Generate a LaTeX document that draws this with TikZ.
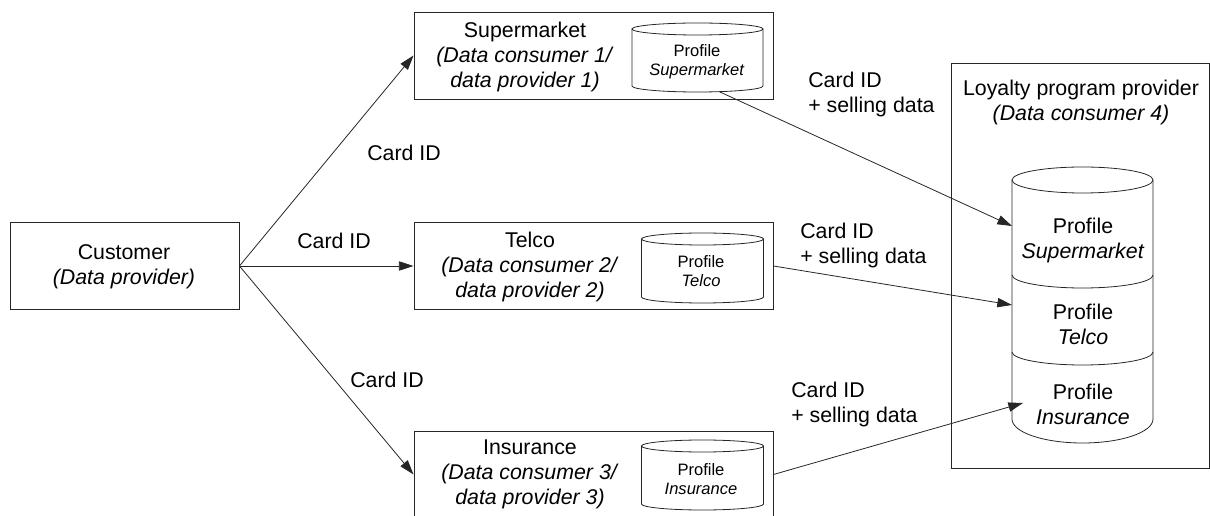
\documentclass[tikz,border=0pt]{standalone}
\usepackage{fontspec}
\setmainfont{Liberation Sans}
\usetikzlibrary{arrows.meta}

% database cylinder: centre x, top-ellipse y, bottom-arc y, x radius, y radius
\newcommand{\dbcyl}[5]{%
  \draw[db] (#1-#4,#2) -- (#1-#4,#3)
    arc[start angle=180,end angle=360,x radius=#4*0.75pt,y radius=#5*0.75pt]
    -- (#1+#4,#2);
  \draw[db] (#1,#2) ellipse[x radius=#4*0.75pt,y radius=#5*0.75pt];}

\begin{document}
\begin{tikzpicture}[x=0.75pt,y=-0.75pt,
  box/.style={draw=black!85, line width=0.7pt, rectangle, inner sep=0},
  bigtxt/.style={font=\fontsize{16}{18.75}\selectfont, align=center, inner sep=0},
  smalltxt/.style={font=\fontsize{12.4}{14.25}\selectfont, align=center, inner sep=0},
  lefttxt/.style={font=\fontsize{16}{18.75}\selectfont, align=left, inner sep=0, anchor=west},
  flow/.style={draw=black!85, line width=0.6pt, -{Triangle[length=11pt,width=7pt]}},
  db/.style={draw=black!85, line width=0.6pt}]
\useasboundingbox (0,0) rectangle (1210,516);

% actor boxes
\node[box, minimum width=171.75pt, minimum height=65.25pt] (cust) at (124.5,266) {};
\node[box, minimum width=269.25pt, minimum height=65.25pt] (sm) at (593.5,55.5) {};
\node[box, minimum width=269.25pt, minimum height=65.25pt] (tel) at (593.5,266) {};
\node[box, minimum width=269.25pt, minimum height=65.25pt] (ins) at (593.5,474.5) {};
\node[box, minimum width=193.5pt, minimum height=303.75pt] (loy) at (1080,265.5) {};

% box captions
\node[bigtxt] (cust-t) at (124,267) {Customer\\\textit{(Data provider)}};
\node[bigtxt] (sm-t) at (525,57) {Supermarket\\\textit{(Data consumer 1/}\\\textit{data provider 1)}};
\node[bigtxt] (tel-t) at (530,267) {Telco\\\textit{(Data consumer 2/}\\\textit{data provider 2)}};
\node[bigtxt] (ins-t) at (530,474) {Insurance\\\textit{(Data consumer 3/}\\\textit{data provider 3)}};
\node[bigtxt] (loy-t) at (1081,102) {Loyalty program provider\\\textit{(Data consumer 4)}};

% local profile stores
\dbcyl{697.5}{29}{86}{65.5}{6}
\dbcyl{702.5}{239}{297}{61}{6}
\dbcyl{702.5}{446}{504}{61}{6}
\node[smalltxt] (smdb-t) at (697,62) {Profile\\\textit{Supermarket}};
\node[smalltxt] (teldb-t) at (701,271.5) {Profile\\\textit{Telco}};
\node[smalltxt] (insdb-t) at (701,479.5) {Profile\\\textit{Insurance}};

% central profile store of the loyalty program provider
\draw[db] (1012,180) -- (1012,419)
  arc[start angle=180,end angle=360,x radius=52.875pt,y radius=18pt]
  -- (1153,180);
\draw[db] (1082.5,180) ellipse[x radius=52.875pt,y radius=9.75pt];
\draw[db] (1012,275) arc[start angle=180,end angle=360,x radius=52.875pt,y radius=9.75pt];
\draw[db] (1012,352) arc[start angle=180,end angle=360,x radius=52.875pt,y radius=9.75pt];
\node[bigtxt] (bigdb-t1) at (1083,240) {Profile\\\textit{Supermarket}};
\node[bigtxt] (bigdb-t2) at (1083,324) {Profile\\\textit{Telco}};
\node[bigtxt] (bigdb-t3) at (1083,404) {Profile\\\textit{Insurance}};

% connector end points on the stores
\coordinate (smdb-out) at (720,92);
\coordinate (bigdb-sm) at (1012,226);
\coordinate (bigdb-tel) at (1012,305);
\coordinate (bigdb-ins) at (1023,403);

% card ID flows
\draw[flow] (cust.east) -- (sm.west);
\draw[flow] (cust.east) -- (tel.west);
\draw[flow] (cust.east) -- (ins.west);
\node[bigtxt] (l1) at (404,153) {Card ID};
\node[bigtxt] (l2) at (334,241) {Card ID};
\node[bigtxt] (l3) at (387,380) {Card ID};

% selling data flows
\draw[flow] (smdb-out) -- (bigdb-sm);
\draw[flow] (tel.east) -- (bigdb-tel);
\draw[flow] (ins.east) -- (bigdb-ins);
\node[lefttxt] (s1) at (808,94.5) {Card ID\\+ selling data};
\node[lefttxt] (s2) at (800,245) {Card ID\\+ selling data};
\node[lefttxt] (s3) at (791,404.5) {Card ID\\+ selling data};
\end{tikzpicture}
\end{document}
